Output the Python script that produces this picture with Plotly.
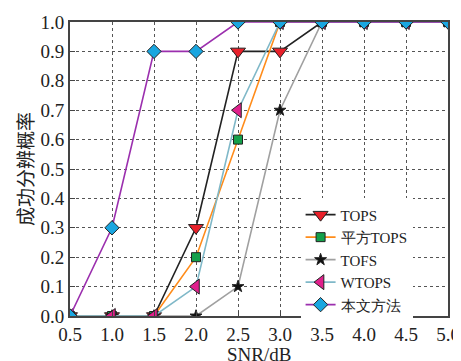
import plotly.graph_objects as go

snr = [0.5, 1.0, 1.5, 2.0, 2.5, 3.0, 3.5, 4.0, 4.5, 5.0]
tops = [0, 0, 0, 0.3, 0.9, 0.9, 1, 1, 1, 1]
sq_tops = [0, 0, 0, 0.2, 0.6, 1, 1, 1, 1, 1]
tofs = [0, 0, 0, 0, 0.1, 0.7, 1, 1, 1, 1]
wtops = [0, 0, 0, 0.1, 0.7, 1, 1, 1, 1, 1]
ours = [0, 0.3, 0.9, 0.9, 1, 1, 1, 1, 1, 1]
y_ticks = [0.0, 0.1, 0.2, 0.3, 0.4, 0.5, 0.6, 0.7, 0.8, 0.9, 1.0]

series = [
    ("TOPS", tops, "#222222", "triangle-down", "#e8202a", 13),
    ("平方TOPS", sq_tops, "#ff8c1a", "square", "#14a04a", 9),
    ("TOFS", tofs, "#a0a0a0", "star", "#111111", 9),
    ("WTOPS", wtops, "#7fb8c8", "triangle-left", "#e0208c", 13),
    ("本文方法", ours, "#9b2fae", "diamond", "#1aa6e0", 11),
]

fig = go.Figure()
for name, ys, lc, sym, mc, ms in series:
    fig.add_trace(go.Scatter(
        x=snr, y=ys, name=name, mode="lines+markers",
        line=dict(color=lc, width=1.6),
        marker=dict(symbol=sym, color=mc, size=ms, line=dict(color="#222222", width=1)),
    ))

font = "Liberation Serif"
grid = dict(showgrid=True, gridcolor="#555555", griddash="3px,3px", gridwidth=1)
axis_common = dict(
    showline=True, linecolor="#444444", linewidth=2, mirror=True,
    ticks="inside", ticklen=5, tickcolor="#444444", zeroline=False,
    automargin=False,
    tickfont=dict(family=font, size=19, color="#222222"), **grid,
)
fig.update_layout(
    width=453, height=353,
    margin=dict(l=62, r=13, t=14, b=45),
    paper_bgcolor="white", plot_bgcolor="white",
    font=dict(family=font, size=19, color="#222222"),
    showlegend=True,
    legend=dict(
        x=0.61, y=0.40, xanchor="left", yanchor="top",
        bgcolor="white", borderwidth=0,
        font=dict(family=font, size=15, color="#222222"), tracegroupgap=0,
    ),
    xaxis=dict(
        range=[0.5, 5.0], tickvals=snr, ticktext=[f"{v:.1f}" for v in snr],
        **axis_common,
    ),
    yaxis=dict(
        range=[0, 1.0], tickvals=y_ticks,
        ticktext=[f"{v:.1f}" for v in y_ticks],
        title=dict(text="成功分辨概率", font=dict(family="Noto Sans CJK SC", size=19), standoff=2),
        **axis_common,
    ),
    annotations=[dict(
        text="SNR/dB", xref="paper", yref="paper", x=0.5, y=0,
        xanchor="center", yanchor="top", yshift=-26, showarrow=False,
        font=dict(family=font, size=19, color="#222222"),
    )],
)
fig.write_html("out.html")
